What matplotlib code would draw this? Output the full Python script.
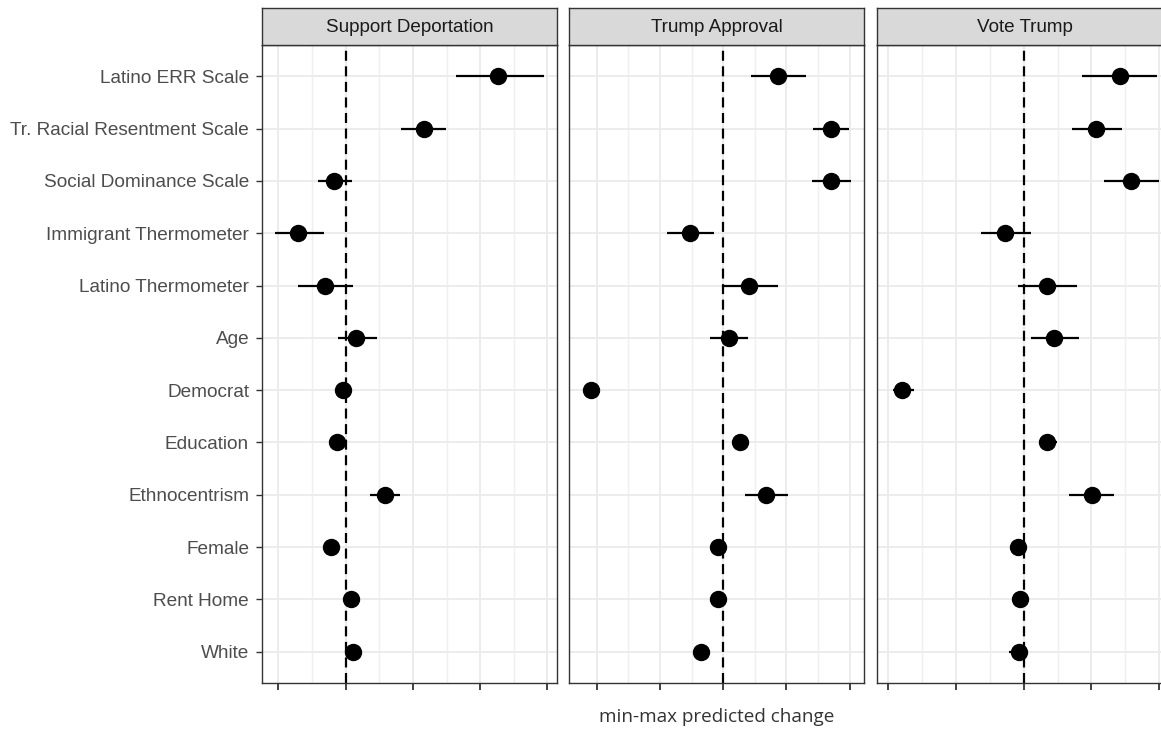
import matplotlib
matplotlib.use("Agg")
import matplotlib.pyplot as plt
from matplotlib.ticker import MultipleLocator, NullFormatter

categories = ["Latino ERR Scale", "Tr. Racial Resentment Scale", "Social Dominance Scale",
              "Immigrant Thermometer", "Latino Thermometer", "Age", "Democrat", "Education",
              "Ethnocentrism", "Female", "Rent Home", "White"]

panels = ["Support Deportation", "Trump Approval", "Vote Trump"]

dep_est = [0.227, 0.117, -0.017, -0.071, -0.031, 0.015, -0.004, -0.013, 0.058, -0.022, 0.008, 0.011]
dep_lo  = [0.164, 0.082, -0.041, -0.105, -0.071, -0.012, -0.015, -0.025, 0.036, -0.031, -0.003, -0.001]
dep_hi  = [0.295, 0.149, 0.009, -0.032, 0.011, 0.047, 0.008, 0.002, 0.081, -0.013, 0.018, 0.024]

app_est = [0.173, 0.341, 0.341, -0.105, 0.081, 0.018, -0.419, 0.053, 0.135, -0.017, -0.017, -0.071]
app_lo  = [0.088, 0.283, 0.280, -0.178, 0.000, -0.042, -0.441, 0.028, 0.069, -0.036, -0.039, -0.093]
app_hi  = [0.262, 0.397, 0.404, -0.029, 0.173, 0.078, -0.393, 0.078, 0.205, 0.002, 0.005, -0.045]

vote_est = [0.284, 0.214, 0.317, -0.055, 0.069, 0.090, -0.360, 0.069, 0.202, -0.017, -0.011, -0.014]
vote_lo  = [0.172, 0.143, 0.238, -0.126, -0.017, 0.022, -0.386, 0.045, 0.134, -0.038, -0.035, -0.043]
vote_hi  = [0.394, 0.291, 0.400, 0.022, 0.157, 0.164, -0.323, 0.098, 0.267, 0.007, 0.013, 0.013]

series = [(dep_est, dep_lo, dep_hi), (app_est, app_lo, app_hi), (vote_est, vote_lo, vote_hi)]
xlims = [(-0.124, 0.314), (-0.487, 0.445), (-0.4325, 0.4375)]
majors = [0.1, 0.2, 0.2]

W, H = 1161, 729
fig = plt.figure(figsize=(W / 100, H / 100), dpi=100)
fig.patch.set_facecolor("white")

panel_left = [262.3, 569.3, 877.3]
panel_w = 294.5
top_px, bot_px = 45, 683
strip_top = 8

label_font = "Liberation Sans"
n = len(categories)
ypos = list(range(n, 0, -1))

for i, (name, (est, lo, hi)) in enumerate(zip(panels, series)):
    l = panel_left[i] / W
    b = 1 - bot_px / H
    ax = fig.add_axes([l, b, panel_w / W, (bot_px - top_px) / H])
    ax.set_facecolor("white")
    ax.set_xlim(*xlims[i])
    ax.set_ylim(0.4, n + 0.6)
    ax.xaxis.set_major_locator(MultipleLocator(majors[i]))
    ax.xaxis.set_minor_locator(MultipleLocator(majors[i] / 2))
    ax.xaxis.set_major_formatter(NullFormatter())
    ax.grid(which="major", color="#EBEBEB", lw=1.3, zorder=0)
    ax.grid(which="minor", axis="x", color="#EFEFEF", lw=1.0, zorder=0)
    ax.set_axisbelow(True)
    ax.set_yticks(ypos)
    if i == 0:
        ax.set_yticklabels(categories, fontsize=13.7, color="#4D4D4D", family=label_font)
        ax.tick_params(axis="y", which="major", length=4, width=1, color="#333333", pad=5.5)
    else:
        ax.set_yticklabels([])
        ax.tick_params(axis="y", length=0)
    ax.tick_params(axis="x", which="major", length=5, width=1.3, color="#333333")
    ax.tick_params(axis="x", which="minor", length=0)
    for sp in ax.spines.values():
        sp.set_color("#333333")
        sp.set_linewidth(1.0)
    ax.axvline(0, color="black", lw=1.6, ls=(0, (4.5, 2.5)), zorder=2)
    ax.hlines(ypos, lo, hi, color="black", lw=1.6, zorder=3)
    ax.plot(est, ypos, "o", color="black", ms=11.5, zorder=4)

    # strip
    sax = fig.add_axes([l, 1 - top_px / H, panel_w / W, (top_px - strip_top) / H])
    sax.set_facecolor("#D9D9D9")
    sax.set_xticks([])
    sax.set_yticks([])
    for sp in sax.spines.values():
        sp.set_color("#333333")
        sp.set_linewidth(1.0)
    sax.text(0.5, 0.47, name, ha="center", va="center", fontsize=13.6,
             color="#1A1A1A", family=label_font, transform=sax.transAxes)

fig.text(717 / W, 1 - 717 / H, "min-max predicted change", ha="center", va="center",
         fontsize=13.6, color="#333333", family="Open Sans", weight="medium")

fig.savefig("out.png", dpi=100, facecolor="white")
